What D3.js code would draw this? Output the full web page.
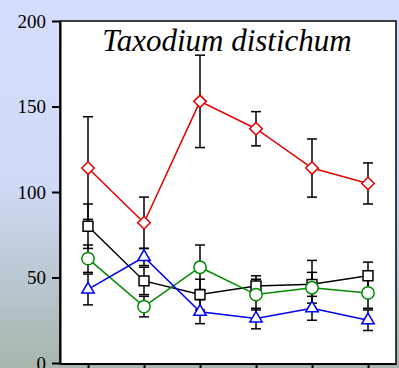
<!DOCTYPE html>
<html>
<head>
<meta charset="utf-8">
<script src="https://cdn.jsdelivr.net/npm/d3@7"></script>
<style>
  body { margin: 0; overflow: hidden; }
  svg { display: block; }
</style>
</head>
<body>
<svg id="chart"></svg>
<script>
// data
const sites = ["1", "2", "3", "4", "5", "6"];
const yTicks = [0, 50, 100, 150, 200];

const redMean = [114, 82, 153, 137, 114, 105];
const redErr = [30, 15, 27, 10, 17, 12];
const blackMean = [80, 48, 40, 45, 46, 51];
const blackErr = [13, 8, 9, 6, 14, 8];
const greenMean = [61, 33, 56, 40, 44, 41];
const greenErr = [8, 6, 13, 9, 9, 9];
const blueMean = [43, 62, 30, 26, 32, 25];
const blueErr = [9, 5, 7, 6, 7, 6];

const titleText = "Taxodium distichum";
const serif = "Liberation Serif, Tinos, Times, DejaVu Serif, serif";

class LineChart {

  constructor(_config) {
    this.config = {
      parentElement: _config.parentElement,
      containerWidth: 399,
      containerHeight: 368,
      margin: { top: 21, right: 2, bottom: 4, left: 60 },
    };
    this.initVis();
  }

  initVis() {
    let vis = this;

    vis.svg = d3
        .select(vis.config.parentElement)
        .attr("width", vis.config.containerWidth)
        .attr("height", vis.config.containerHeight);

    // background gradient, blue on top fading to grey-green
    let grad = vis.svg.append("defs")
        .append("linearGradient")
        .attr("id", "bg")
        .attr("x1", 0).attr("y1", 0).attr("x2", 0).attr("y2", 1);
    grad.append("stop").attr("offset", "0%").attr("stop-color", "#d5ddfc");
    grad.append("stop").attr("offset", "50%").attr("stop-color", "#d0daf6");
    grad.append("stop").attr("offset", "100%").attr("stop-color", "#a7b5ad");

    vis.svg.append("rect")
        .attr("width", vis.config.containerWidth)
        .attr("height", vis.config.containerHeight)
        .attr("fill", "url(#bg)");

    vis.innerWidth = vis.config.containerWidth - vis.config.margin.left - vis.config.margin.right;
    vis.innerHeight = vis.config.containerHeight - vis.config.margin.top - vis.config.margin.bottom;

    vis.chart = vis.svg.append("g")
        .attr("transform", `translate(${vis.config.margin.left},${vis.config.margin.top})`);

    // white plot area
    vis.chart.append("rect")
        .attr("width", vis.innerWidth - 1)
        .attr("height", vis.innerHeight)
        .attr("fill", "white")
        .attr("stroke", "black")
        .attr("stroke-width", 1.5);

    vis.xAxis = vis.chart.append("g").attr("transform", `translate(0,${vis.innerHeight - 0.5})`);
    vis.yAxis = vis.chart.append("g");
    vis.errGroup = vis.chart.append("g");
    vis.lineGroup = vis.chart.append("g");
    vis.markGroup = vis.chart.append("g");

    vis.svg.append("text")
        .attr("x", 227)
        .attr("y", 51)
        .attr("text-anchor", "middle")
        .attr("font-family", serif)
        .attr("font-style", "italic")
        .attr("font-size", 31)
        .attr("fill", "black")
        .text(titleText);
  }

  updateVis(series) {
    let vis = this;
    vis.series = series;

    vis.xScale = d3.scalePoint()
        .domain(sites)
        .range([0, vis.innerWidth - 1])
        .padding(0.5);

    vis.yScale = d3.scaleLinear()
        .domain([0, 200])
        .range([vis.innerHeight - 1, 0]);

    vis.yAxis.call(d3.axisLeft(vis.yScale).tickValues(yTicks).tickSize(8).tickPadding(6).tickSizeOuter(0));
    vis.xAxis.call(d3.axisBottom(vis.xScale).tickSize(8).tickSizeOuter(0).tickFormat(""));

    [vis.yAxis, vis.xAxis].forEach(ax => {
      ax.attr("font-family", serif).attr("font-size", 19);
      ax.selectAll("path").attr("stroke", "black").attr("stroke-width", 2);
      ax.selectAll("line").attr("stroke", "black").attr("stroke-width", 2);
      ax.selectAll("text").attr("fill", "black");
    });

    vis.renderVis();
  }

  renderVis() {
    let vis = this;
    const x = vis.xScale, y = vis.yScale;
    const capW = 5;

    // flatten points for error bars
    let pts = [];
    vis.series.forEach(s => {
      s.mean.forEach((m, i) => pts.push({ site: sites[i], m: m, e: s.err[i] }));
    });

    let eb = vis.errGroup.selectAll("g").data(pts).join("g")
        .attr("stroke", "black")
        .attr("stroke-width", 1.5);
    eb.append("line")
        .attr("x1", d => x(d.site)).attr("x2", d => x(d.site))
        .attr("y1", d => y(d.m + d.e)).attr("y2", d => y(d.m - d.e));
    eb.append("line")
        .attr("x1", d => x(d.site) - capW).attr("x2", d => x(d.site) + capW)
        .attr("y1", d => y(d.m + d.e)).attr("y2", d => y(d.m + d.e));
    eb.append("line")
        .attr("x1", d => x(d.site) - capW).attr("x2", d => x(d.site) + capW)
        .attr("y1", d => y(d.m - d.e)).attr("y2", d => y(d.m - d.e));

    const line = d3.line()
        .x((d, i) => x(sites[i]))
        .y(d => y(d));

    vis.lineGroup.selectAll("path").data(vis.series).join("path")
        .attr("d", d => line(d.mean))
        .attr("fill", "none")
        .attr("stroke", d => d.color)
        .attr("stroke-width", 1.5);

    vis.series.forEach(s => {
      vis.markGroup.append("g")
          .selectAll("path")
          .data(s.mean)
          .join("path")
          .attr("transform", (d, i) => `translate(${x(sites[i])},${y(d)})`)
          .attr("d", d3.symbol().type(s.symbol).size(s.size))
          .attr("fill", "white")
          .attr("stroke", s.color)
          .attr("stroke-width", 1.5);
    });
  }
}

const chart = new LineChart({ parentElement: "#chart" });
chart.updateVis([
  { mean: redMean, err: redErr, color: "#e60000", symbol: d3.symbolDiamond2, size: 100 },
  { mean: blackMean, err: blackErr, color: "black", symbol: d3.symbolSquare2, size: 125 },
  { mean: greenMean, err: greenErr, color: "#008a00", symbol: d3.symbolCircle, size: 120 },
  { mean: blueMean, err: blueErr, color: "#0000f0", symbol: d3.symbolTriangle2, size: 110 },
]);
</script>
</body>
</html>
